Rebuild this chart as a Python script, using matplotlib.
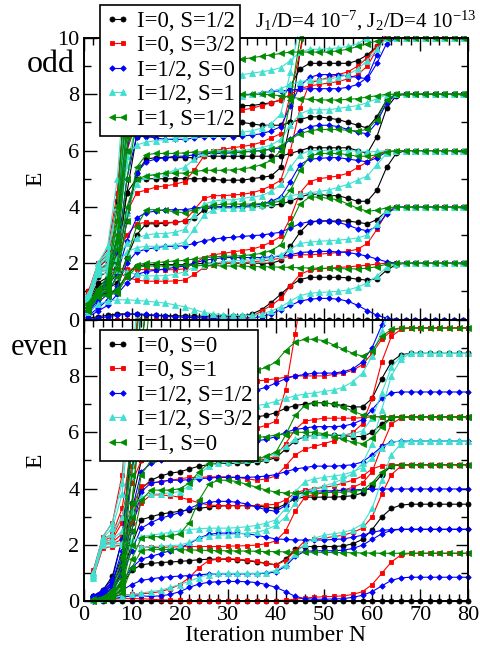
import matplotlib
matplotlib.use("Agg")
import matplotlib.pyplot as plt
from matplotlib.patches import Rectangle
from matplotlib.ticker import MultipleLocator

plt.rcParams['font.family'] = ['Liberation Serif', 'DejaVu Serif']
plt.rcParams['mathtext.fontset'] = 'custom'
plt.rcParams['mathtext.rm'] = 'Liberation Serif'
plt.rcParams['mathtext.it'] = 'Liberation Serif:italic'

# ---------------- data ----------------
N_odd = list(range(1, 80, 2))   # odd iterations
N_even = list(range(2, 81, 2))  # even iterations

labels_odd = ["I=0, S=1/2", "I=0, S=3/2", "I=1/2, S=0", "I=1/2, S=1", "I=1, S=1/2"]
labels_even = ["I=0, S=0", "I=0, S=1", "I=1/2, S=1/2", "I=1/2, S=3/2", "I=1, S=0"]

odd_black = [
 [0,0,0,0,0,0,0,0,0,0, 0,0,0,0,0,0,0,0,0,0, 0,0,0,0,0,0,0,0,0,0, 0,0,0,0,0,0,0,0,0,0],
 [0.05,0.1,0.15,0.2,0.2,0.18,0.15,0.15,0.14,0.13, 0.13,0.12,0.12,0.12,0.12,0.12,0.12,0.2,0.35,0.6,
  0.9,1.2,1.42,1.5,1.5,1.5,1.5,1.48,1.43,1.4, 1.45,1.75,1.95,2.0,2.0,2.0,2.0,2.0,2.0,2.0],
 [0.3,0.85,0.95,1.05,1.6,1.9,1.95,1.95,1.95,1.95, 1.95,1.97,2.0,2.0,2.0,2.0,2.0,2.0,2.0,2.0,
  2.1,2.6,3.1,3.45,3.5,3.5,3.5,3.5,3.45,3.4, 3.55,3.85,4.0,4.0,4.0,4.0,4.0,4.0,4.0,4.0],
 [0.4,1.0,1.1,1.3,2.2,3.0,3.4,3.4,3.42,3.45, 3.5,3.6,3.9,4.0,4.0,4.0,4.0,4.0,4.02,4.05,
  4.1,4.2,4.35,4.45,4.45,4.4,4.4,4.3,4.2,4.2, 4.6,5.4,5.9,6.0,6.0,6.0,6.0,6.0,6.0,6.0],
 [0.5,1.1,1.25,1.6,3.5,5.2,5.7,5.75,5.75,5.75, 5.75,5.75,5.8,5.8,5.8,5.8,5.8,5.8,5.8,5.8,
  5.8,5.9,6.0,6.1,6.1,6.1,6.1,6.1,6.0,5.9, 6.5,7.5,7.95,8.0,8.0,8.0,8.0,8.0,8.0,8.0],
 [0.6,1.2,1.4,2.0,4.5,6.5,6.9,7.0,7.0,7.0, 7.05,7.1,7.1,7.1,7.05,7.0,7.0,6.95,6.9,6.9,
  6.9,7.0,7.1,7.2,7.2,7.15,7.1,7.0,6.9,6.8, 7.2,7.8,8.0,8.0,8.0,8.0,8.0,8.0,8.0,8.0],
 [0.8,1.5,1.7,2.6,6.0,9.0,8.9,8.6,8.4,8.2, 8.0,7.8,7.7,7.65,7.6,7.6,7.6,7.6,7.65,7.7,
  7.8,8.3,8.9,9.1,9.1,9.1,9.1,9.1,9.2,9.4, 9.7,10.0,10.0,10.0,10.0,10.0,10.0,10.0,10.0,10.0],
 [0.7,1.3,1.5,2.3,4.5,5.0,5.0,5.0,5.0,5.0, 5.0,5.0,5.0,4.98,4.95,4.95,4.95,5.0,5.05,5.1,
  5.4,7.0,9.5,11.5],
 [0.9,1.7,2.0,3.5,7.5,11.0],
 [1.0,1.8,2.2,4.2,9.0,13.0],
]

odd_red = [
 [0,0,0,0,0,0,0,0,0,0, 0,0,0,0,0,0,0,0.1,0.3,0.5,
  0.75,1.2,1.6,1.75,1.8,1.82,1.85,1.87,1.9,1.93, 1.97,2.0,2.0,2.0,2.0,2.0,2.0,2.0,2.0,2.0],
 [0.55,1.6,1.65,1.7,1.5,1.4,1.36,1.36,1.36,1.37, 1.4,1.6,1.85,1.95,2.0,2.0,2.02,2.05,2.08,2.12,
  2.18,2.25,2.3,2.3,2.32,2.35,2.38,2.42,2.5,2.7, 3.2,3.8,4.0,4.0,4.0,4.0,4.0,4.0,4.0,4.0],
 [0.6,1.7,1.75,1.8,1.8,1.78,1.77,1.77,1.77,1.77, 1.8,2.0,2.2,2.3,2.35,2.4,2.45,2.5,2.6,2.75,
  2.95,3.6,4.5,4.9,5.0,5.05,5.1,5.2,5.4,5.6, 5.85,6.0,6.0,6.0,6.0,6.0,6.0,6.0,6.0,6.0],
 [0.7,1.8,1.9,2.3,3.0,3.4,3.45,3.45,3.45,3.45, 3.5,3.9,4.3,4.4,4.4,4.42,4.45,4.5,4.6,4.75,
  4.95,6.0,7.5,8.4,8.5,8.6,8.7,8.8,9.0,9.3, 9.7,10.0,10.0,10.0,10.0,10.0,10.0,10.0,10.0,10.0],
 [0.8,1.9,2.1,2.6,3.8,4.5,4.6,4.7,4.75,4.8, 4.9,5.3,5.8,6.0,6.05,6.1,6.15,6.2,6.3,6.45,
  6.6,8.0,9.5,11.0],
 [0.9,2.0,2.3,3.5,6.0,7.0,7.2,7.3,7.3,7.3, 7.3,7.35,7.4,7.4,7.4,7.42,7.45,7.5,7.6,7.7,
  7.8,8.0,8.2,8.3,8.35,8.4,8.45,8.55,8.7,9.0, 9.6,10.2,11.0],
 [1.0,2.0,2.5,4.5,8.5,12.0],
]

odd_blue = [
 [0.0,0.05,0.1,0.15,0.2,0.2,0.18,0.15,0.12,0.1, 0.08,0.07,0.06,0.05,0.05,0.05,0.05,0.06,0.1,0.2,
  0.35,0.5,0.65,0.72,0.75,0.75,0.72,0.65,0.5,0.32, 0.15,0.05,0.0,0.0,0.0,0.0,0.0,0.0,0.0,0.0],
 [0.1,0.3,0.5,0.9,1.3,1.6,1.7,1.75,1.8,1.85, 1.9,2.0,2.1,2.15,2.2,2.2,2.2,2.2,2.2,2.22,
  2.25,2.3,2.38,2.4,2.42,2.42,2.4,2.38,2.32,2.25, 2.15,2.05,2.0,2.0,2.0,2.0,2.0,2.0,2.0,2.0],
 [0.15,0.4,0.7,1.2,2.0,2.4,2.5,2.55,2.6,2.6, 2.62,2.7,2.8,2.85,2.9,2.92,2.95,2.98,3.0,3.05,
  3.1,3.25,3.4,3.48,3.5,3.5,3.45,3.35,3.22,3.15, 3.3,3.75,3.98,4.0,4.0,4.0,4.0,4.0,4.0,4.0],
 [0.2,0.6,0.9,1.6,2.8,3.6,3.8,3.85,3.9,3.9, 3.9,3.95,4.0,4.0,4.0,4.0,4.02,4.05,4.1,4.2,
  4.35,4.9,5.5,5.7,5.72,5.75,5.75,5.7,5.65,5.6, 5.75,5.95,6.0,6.0,6.0,6.0,6.0,6.0,6.0,6.0],
 [0.25,0.7,1.1,2.0,3.8,5.2,5.6,5.7,5.75,5.8, 5.8,5.85,5.9,5.9,5.9,5.92,5.95,5.98,6.0,6.05,
  6.1,6.4,6.7,6.85,6.9,6.9,6.85,6.75,6.65,6.6, 7.0,7.7,7.98,8.0,8.0,8.0,8.0,8.0,8.0,8.0],
 [0.3,0.8,1.3,2.4,5.0,6.5,6.5,6.45,6.4,6.4, 6.4,6.45,6.5,6.5,6.5,6.5,6.52,6.55,6.6,6.7,
  6.85,7.6,8.3,8.6,8.7,8.7,8.7,8.65,8.6,8.55, 9.1,9.8,10.0,10.0,10.0,10.0,10.0,10.0,10.0,10.0],
 [0.3,0.85,1.4,2.8,6.0,7.5,7.6,7.65,7.7,7.75, 7.8,7.85,7.9,7.9,7.9,7.92,7.95,8.0,8.05,8.1,
  8.12,8.15,8.18,8.2,8.2,8.2,8.2,8.25,8.35,8.6, 9.4,10.5,12.0],
 [0.35,0.9,1.5,3.0,7.0,11.0],
]

odd_cyan = [
 [0.25,0.55,0.65,0.7,0.7,0.68,0.65,0.62,0.58,0.52, 0.45,0.35,0.25,0.2,0.17,0.15,0.15,0.15,0.2,0.3,
  0.45,0.65,0.85,0.93,0.96,0.98,1.0,1.05,1.15,1.3, 1.55,1.85,1.98,2.0,2.0,2.0,2.0,2.0,2.0,2.0],
 [0.55,1.6,1.65,1.75,1.7,1.6,1.55,1.55,1.56,1.6, 1.7,1.85,1.95,2.0,2.05,2.08,2.1,2.12,2.15,2.2,
  2.3,2.5,2.7,2.75,2.78,2.8,2.82,2.85,2.9,3.0, 3.4,3.9,4.0,4.0,4.0,4.0,4.0,4.0,4.0,4.0],
 [0.6,1.65,1.8,2.0,2.4,2.55,2.6,2.6,2.62,2.65, 2.75,3.2,3.7,3.9,3.95,3.95,3.97,4.0,4.05,4.15,
  4.3,4.4,4.45,4.5,4.55,4.6,4.7,4.8,4.95,5.1, 5.5,5.9,6.0,6.0,6.0,6.0,6.0,6.0,6.0,6.0],
 [0.65,1.7,1.85,2.2,2.7,2.9,3.0,3.05,3.05,3.1, 3.2,3.7,4.1,4.2,4.25,4.25,4.3,4.35,4.4,4.55,
  4.8,5.4,5.85,6.0,6.0,6.0,6.0,6.0,5.98,5.95, 5.97,6.0,6.0,6.0,6.0,6.0,6.0,6.0,6.0,6.0],
 [0.7,1.75,1.9,2.6,3.8,4.8,5.1,5.15,5.2,5.3, 5.4,5.7,5.9,6.0,6.0,6.0,6.0,6.05,6.1,6.2,
  6.4,6.9,7.3,7.45,7.45,7.45,7.5,7.55,7.6,7.7, 7.85,7.98,8.0,8.0,8.0,8.0,8.0,8.0,8.0,8.0],
 [0.75,1.8,2.0,3.0,5.5,7.0,7.3,7.4,7.5,7.6, 7.7,7.8,7.85,7.9,7.9,7.9,7.95,8.0,8.05,8.1,
  8.2,8.35,8.45,8.5,8.5,8.55,8.6,8.7,8.9,9.2, 9.6,10.0,10.0,10.0,10.0,10.0,10.0,10.0,10.0,10.0],
 [0.85,1.9,2.2,3.3,5.8,6.2,6.3,6.35,6.4,6.45, 6.5,6.55,6.6,6.6,6.6,6.62,6.65,6.7,6.8,6.95,
  7.3,8.8,10.5,12.0],
 [0.9,2.0,2.4,4.0,7.0,8.2,8.4,8.5,8.55,8.6, 8.6,8.6,8.6,8.62,8.65,8.68,8.7,8.75,8.8,8.85,
  8.95,9.2,9.5,9.6,9.6,9.62,9.65,9.7,9.8,10.0, 10.5,11.5],
 [0.8,1.9,2.3,4.0,8.0,12.0],
 [0.9,2.0,2.6,5.0,9.5,13.0],
]

odd_green = [
 [0.3,0.8,0.85,0.95,1.5,1.85,1.9,1.9,1.9,1.92, 1.93,1.93,1.92,1.92,1.9,1.9,1.9,1.88,1.88,1.87,
  1.86,1.85,1.84,1.83,1.82,1.82,1.81,1.8,1.8,1.82, 1.88,1.96,2.0,2.0,2.0,2.0,2.0,2.0,2.0,2.0],
 [0.35,0.85,0.9,1.1,2.2,3.3,3.9,3.9,3.88,3.82, 3.8,3.9,4.0,4.05,4.1,4.1,4.1,4.1,4.12,4.15,
  4.2,4.6,5.3,5.8,5.9,5.9,5.9,5.85,5.8,5.8, 5.85,5.95,6.0,6.0,6.0,6.0,6.0,6.0,6.0,6.0],
 [0.32,0.82,0.88,1.0,1.6,1.95,2.0,2.02,2.05,2.08, 2.1,2.15,2.2,2.22,2.25,2.25,2.27,2.3,2.35,2.45,
  2.65,3.4,4.1,4.35,4.35,4.3,4.25,4.1,3.95,3.85, 3.88,3.97,4.0,4.0,4.0,4.0,4.0,4.0,4.0,4.0],
 [0.4,0.9,1.0,1.5,3.5,5.4,5.85,5.9,5.9,5.9, 5.92,5.95,5.95,5.95,5.95,5.95,5.95,5.97,6.0,6.05,
  6.15,6.4,6.6,6.7,6.75,6.75,6.75,6.72,6.7,6.75, 7.1,7.8,8.0,8.0,8.0,8.0,8.0,8.0,8.0,8.0],
 [0.45,0.95,1.1,2.0,5.0,7.0,7.6,7.7,7.75,7.8, 7.85,7.9,7.95,8.0,8.0,8.0,8.0,8.0,8.0,7.98,
  7.95,7.9,7.85,7.82,7.8,7.8,7.8,7.82,7.85,7.9, 7.95,8.0,8.0,8.0,8.0,8.0,8.0,8.0,8.0,8.0],
 [0.5,1.0,1.2,2.5,6.0,8.5,8.9,9.0,9.0,9.05, 9.1,9.15,9.2,9.2,9.2,9.2,9.25,9.3,9.35,9.4,
  9.45,9.5,9.5,9.5,9.5,9.5,9.55,9.6,9.7,9.8, 9.9,10.0,10.0,10.0,10.0,10.0,10.0,10.0,10.0,10.0],
 [0.45,0.9,1.05,1.8,4.0,5.0,5.1,5.15,5.2,5.2, 5.2,5.25,5.3,5.3,5.3,5.32,5.35,5.4,5.5,5.65,
  6.0,7.8,10.0,12.0],
 [0.5,1.0,1.3,3.0,7.0,11.5],
 [0.55,1.05,1.4,3.5,8.0,12.0],
 [0.6,1.1,1.5,4.0,9.0,13.0],
 [0.4,0.95,1.2,2.8,6.5,10.5],
]

even_black = [
 [0,0,0,0,0,0,0,0,0,0, 0,0,0,0,0,0,0,0,0,0, 0,0,0,0,0,0,0,0,0,0, 0,0,0,0,0,0,0,0,0,0],
 [0.05,0.15,0.3,0.6,1.1,1.3,1.35,1.38,1.4,1.42, 1.45,1.48,1.5,1.5,1.5,1.48,1.45,1.4,1.35,1.3,
  1.5,1.85,1.95,1.95,1.95,1.95,1.97,2.05,2.2,2.55, 3.0,3.3,3.42,3.45,3.45,3.45,3.45,3.45,3.45,3.45],
 [0.1,0.25,0.5,1.0,2.0,2.9,3.0,3.1,3.15,3.2, 3.25,3.3,3.35,3.38,3.4,3.4,3.4,3.38,3.35,3.3,
  3.45,3.65,3.7,3.7,3.7,3.7,3.72,3.75,3.85,4.1, 4.5,4.8,4.85,4.85,4.85,4.85,4.85,4.85,4.85,4.85],
 [0.15,0.3,0.6,1.3,2.8,4.0,4.3,4.45,4.55,4.6, 4.7,4.8,4.85,4.9,4.9,4.9,4.92,4.95,5.0,5.1,
  5.4,5.7,5.85,5.9,5.9,5.9,5.88,5.85,5.85,6.0, 6.3,6.5,6.55,6.55,6.55,6.55,6.55,6.55,6.55,6.55],
 [0.2,0.35,0.7,1.6,3.5,5.0,5.5,5.7,5.85,5.95, 6.1,6.3,6.4,6.45,6.45,6.45,6.5,6.55,6.6,6.7,
  6.85,6.95,7.0,7.05,7.05,7.0,6.95,6.9,6.9,7.2, 7.9,8.5,8.75,8.8,8.8,8.8,8.8,8.8,8.8,8.8],
 [0.2,0.4,0.9,2.2,5.5,9.0,12.0],
]

even_red = [
 [0.0,0.05,0.08,0.1,0.1,0.1,0.08,0.06,0.05,0.04, 0.03,0.03,0.03,0.03,0.03,0.03,0.03,0.03,0.03,0.03,
  0.05,0.08,0.12,0.15,0.17,0.18,0.2,0.25,0.35,0.6, 1.0,1.4,1.65,1.71,1.71,1.71,1.71,1.71,1.71,1.71],
 [0.1,0.15,0.2,0.22,0.25,0.27,0.3,0.35,0.45,0.6, 0.85,1.2,1.45,1.5,1.52,1.5,1.47,1.42,1.35,1.3,
  1.45,1.8,2.15,2.2,2.25,2.3,2.35,2.45,2.6,3.0, 3.8,4.5,4.8,4.85,4.85,4.85,4.85,4.85,4.85,4.85],
 [0.85,1.9,1.95,2.0,2.0,1.95,1.92,1.92,1.93,1.94, 1.95,1.95,1.95,1.95,1.96,1.97,1.98,2.0,2.05,2.15,
  2.5,3.2,3.7,3.8,3.85,3.9,3.95,4.05,4.2,4.6, 5.5,6.3,6.5,6.55,6.55,6.55,6.55,6.55,6.55,6.55],
 [0.9,2.0,2.05,2.2,2.8,3.5,3.78,3.78,3.75,3.7, 3.6,3.5,3.42,3.4,3.4,3.4,3.4,3.4,3.42,3.45,
  3.6,3.85,3.95,4.0,4.05,4.1,4.2,4.3,4.45,4.7, 4.82,4.85,4.85,4.85,4.85,4.85,4.85,4.85,4.85,4.85],
 [0.95,2.05,2.1,2.4,3.3,4.1,4.2,4.25,4.3,4.35, 4.4,4.4,4.42,4.42,4.42,4.4,4.35,4.3,4.35,4.45,
  4.8,5.2,5.4,5.5,5.6,5.7,5.85,6.0,6.3,7.2, 8.5,9.4,9.65,9.7,9.7,9.7,9.7,9.7,9.7,9.7],
 [1.0,2.1,2.2,2.8,4.2,5.0,5.1,5.15,5.2,5.25, 5.3,5.2,5.1,5.0,5.0,5.0,5.0,5.0,5.05,5.15,
  5.6,6.1,6.4,6.45,6.5,6.5,6.5,6.5,6.52,6.55, 6.55,6.55,6.55,6.55,6.55,6.55,6.55,6.55,6.55,6.55],
 [1.05,2.2,2.4,3.3,5.5,7.0,7.2,7.3,7.4,7.5, 7.6,7.7,7.75,7.8,7.8,7.8,7.8,7.82,7.85,7.9,
  7.95,8.0,8.0,8.0,8.0,8.05,8.1,8.2,8.4,8.8, 9.3,9.6,9.7,9.7,9.7,9.7,9.7,9.7,9.7,9.7],
 [1.0,2.15,2.3,3.0,4.8,5.6,5.8,5.9,6.0,6.0, 6.0,6.0,6.0,6.0,6.02,6.05,6.1,6.15,6.25,6.4,
  7.5,9.5,11.5],
 [1.1,2.3,2.8,4.5,8.0,11.5],
]

even_blue = [
 [0.02,0.05,0.1,0.15,0.2,0.2,0.18,0.2,0.25,0.35, 0.5,0.62,0.68,0.7,0.71,0.71,0.7,0.67,0.6,0.5,
  0.35,0.18,0.1,0.08,0.08,0.09,0.1,0.15,0.22,0.35, 0.55,0.75,0.84,0.86,0.86,0.86,0.86,0.86,0.86,0.86],
 [0.05,0.15,0.35,0.7,1.2,1.5,1.6,1.7,1.8,1.9, 2.05,2.25,2.38,2.42,2.43,2.42,2.4,2.35,2.28,2.22,
  2.2,2.18,2.18,2.18,2.18,2.2,2.22,2.28,2.35,2.45, 2.52,2.55,2.56,2.56,2.56,2.56,2.56,2.56,2.56,2.56],
 [0.04,0.1,0.2,0.4,0.6,0.75,0.8,0.85,0.88,0.9, 0.92,0.95,0.97,0.98,0.98,0.98,0.98,0.99,1.0,1.05,
  1.25,1.6,1.78,1.8,1.8,1.8,1.82,1.88,2.0,2.2, 2.4,2.52,2.56,2.56,2.56,2.56,2.56,2.56,2.56,2.56],
 [0.1,0.2,0.45,0.9,1.8,2.6,2.8,2.95,3.05,3.15, 3.3,3.45,3.52,3.55,3.55,3.52,3.45,3.35,3.25,3.2,
  3.4,3.75,3.9,3.92,3.92,3.93,3.95,3.96,3.97,3.98, 3.99,3.99,3.99,3.99,3.99,3.99,3.99,3.99,3.99,3.99],
 [0.12,0.25,0.5,1.1,2.5,3.9,4.2,4.25,4.3,4.3, 4.32,4.35,4.38,4.4,4.4,4.4,4.4,4.42,4.45,4.5,
  4.6,4.7,4.75,4.8,4.8,4.8,4.82,4.85,4.95,5.2, 5.5,5.65,5.69,5.69,5.69,5.69,5.69,5.69,5.69,5.69],
 [0.15,0.3,0.6,1.4,3.2,4.6,4.9,5.0,5.1,5.2, 5.3,5.45,5.55,5.6,5.6,5.62,5.65,5.7,5.75,5.85,
  6.0,6.1,6.15,6.2,6.2,6.2,6.22,6.3,6.45,6.8, 7.2,7.4,7.43,7.43,7.43,7.43,7.43,7.43,7.43,7.43],
 [0.18,0.35,0.7,1.8,4.5,6.6,7.0,7.1,7.2,7.3, 7.35,7.4,7.4,7.4,7.4,7.42,7.45,7.5,7.6,7.75,
  7.9,8.0,8.05,8.1,8.1,8.1,8.15,8.25,8.5,9.0, 9.8,10.6],
 [0.2,0.4,0.8,2.2,6.0,10.5],
]

even_cyan = [
 [0.85,2.0,2.03,2.05,2.15,2.3,2.35,2.4,2.45,2.5, 2.55,2.58,2.6,2.6,2.6,2.62,2.65,2.7,2.78,2.9,
  3.3,3.9,4.25,4.35,4.4,4.45,4.5,4.6,4.75,5.1, 5.45,5.65,5.69,5.69,5.69,5.69,5.69,5.69,5.69,5.69],
 [0.05,0.1,0.15,0.2,0.25,0.3,0.35,0.4,0.5,0.6, 0.72,0.85,0.95,1.0,1.0,1.0,1.0,1.0,1.02,1.1,
  1.3,1.7,2.05,2.25,2.35,2.4,2.45,2.55,2.75,3.3, 4.3,5.2,5.6,5.69,5.69,5.69,5.69,5.69,5.69,5.69],
 [0.9,2.02,2.05,2.07,2.0,1.95,1.95,1.96,1.98,2.0, 2.1,2.25,2.33,2.35,2.37,2.4,2.42,2.45,2.55,2.7,
  3.0,3.5,3.9,4.0,4.1,4.2,4.35,4.55,4.9,5.6, 6.8,8.0,8.6,8.8,8.8,8.8,8.8,8.8,8.8,8.8],
 [0.95,2.1,2.2,2.5,3.2,3.7,3.8,3.82,3.85,3.9, 4.1,4.5,4.8,4.9,4.95,5.0,5.0,5.05,5.1,5.25,
  5.5,5.75,5.85,5.9,5.9,5.9,5.92,5.95,6.05,6.5, 7.4,8.3,8.7,8.8,8.8,8.8,8.8,8.8,8.8,8.8],
 [1.0,2.2,2.4,3.0,4.5,6.0,6.3,6.4,6.5,6.6, 6.7,6.8,6.85,6.9,6.9,6.9,6.92,6.95,7.0,7.1,
  7.2,7.3,7.35,7.4,7.45,7.5,7.6,7.8,8.1,8.7, 9.6,10.5],
 [1.0,2.25,2.6,3.8,7.5,11.0],
 [1.05,2.3,2.8,4.2,8.5,12.0],
]

even_green = [
 [0.02,0.05,0.1,0.3,1.2,1.8,1.85,1.85,1.84,1.84, 1.83,1.82,1.81,1.8,1.8,1.79,1.79,1.78,1.77,1.77,
  1.76,1.76,1.75,1.75,1.74,1.74,1.73,1.73,1.72,1.72, 1.71,1.71,1.71,1.71,1.71,1.71,1.71,1.71,1.71,1.71],
 [0.03,0.06,0.12,0.4,1.5,2.25,2.3,2.3,2.32,2.4, 2.8,3.6,4.15,4.3,4.3,4.25,4.15,4.05,3.95,3.88,
  3.85,3.85,3.85,3.85,3.86,3.87,3.88,3.9,3.95,4.2, 4.6,4.8,4.85,4.85,4.85,4.85,4.85,4.85,4.85,4.85],
 [0.04,0.08,0.15,0.5,2.0,3.6,3.95,3.95,3.95,4.0, 4.2,4.6,4.9,5.0,5.0,5.0,5.02,5.05,5.15,5.3,
  5.9,6.6,6.95,7.05,7.05,7.0,6.9,6.75,6.62,6.56, 6.55,6.55,6.55,6.55,6.55,6.55,6.55,6.55,6.55,6.55],
 [0.05,0.1,0.2,0.6,2.5,4.5,5.0,5.2,5.3,5.4, 5.5,5.6,5.7,5.75,5.8,5.8,5.8,5.82,5.85,5.9,
  5.95,6.0,6.0,6.0,5.95,5.85,5.75,5.65,5.6,5.8, 6.2,6.5,6.55,6.55,6.55,6.55,6.55,6.55,6.55,6.55],
 [0.06,0.12,0.25,0.8,3.5,6.5,7.3,7.5,7.6,7.7, 7.8,7.9,8.0,8.0,8.05,8.1,8.15,8.2,8.3,8.5,
  8.9,9.2,9.3,9.3,9.25,9.1,8.95,8.8,8.7,8.9, 9.4,9.65,9.7,9.7,9.7,9.7,9.7,9.7,9.7,9.7],
 [0.06,0.12,0.3,1.0,4.5,9.0,12.0],
 [0.07,0.14,0.35,1.3,5.5,10.5],
 [0.08,0.16,0.4,1.6,6.5,12.0],
 [0.05,0.1,0.22,0.7,3.0,7.5,11.0],
]

# ---------------- styles ----------------
styles = [
    dict(color='black', marker='o', ms=3.6),
    dict(color='#ff0000', marker='s', ms=3.4),
    dict(color='#0000ff', marker='D', ms=2.8),
    dict(color='#40e0d0', marker='^', ms=4.0),
    dict(color='#008b00', marker='<', ms=4.0),
]

fig = plt.figure(figsize=(4.8, 6.55), dpi=100)
L, W = 0.1742, 0.8014
ax_top = fig.add_axes([L, 0.5122, W, 0.4298])
ax_bot = fig.add_axes([L, 0.0817, W, 0.4305])


def draw(ax, N, groups, labels):
    clip = Rectangle((-0.02, -0.03), 1.04, 1.038, transform=ax.transAxes)
    handles = []
    for grp, st, lab in zip(groups, styles, labels):
        first = None
        for lvl in grp:
            ln, = ax.plot(N[:len(lvl)], lvl, color=st['color'], marker=st['marker'],
                          ms=st['ms'], lw=0.8, mew=0.6, mec=st['color'])
            ln.set_clip_path(clip)
            if first is None:
                first = ln
        handles.append(first)
    ax.set_xlim(0, 80)
    ax.set_ylim(0, 10)
    ax.xaxis.set_major_locator(MultipleLocator(10))
    ax.xaxis.set_minor_locator(MultipleLocator(2))
    ax.yaxis.set_major_locator(MultipleLocator(2))
    ax.yaxis.set_minor_locator(MultipleLocator(1))
    ax.tick_params(which='both', direction='in', top=True, right=True, width=1.0)
    ax.tick_params(which='major', length=9, labelsize=16, pad=3)
    ax.tick_params(which='minor', length=5)
    for s in ax.spines.values():
        s.set_linewidth(1.4)
    ax.set_ylabel('E', fontsize=17)
    ax.yaxis.set_label_coords(-0.098, 0.5)
    return handles


h_top = draw(ax_top, N_odd, [odd_black, odd_red, odd_blue, odd_cyan, odd_green], labels_odd)
h_bot = draw(ax_bot, N_even, [even_black, even_red, even_blue, even_cyan, even_green], labels_even)

ax_top.tick_params(labelbottom=False)
ax_bot.set_yticks([0, 2, 4, 6, 8, 10])
ax_bot.set_yticklabels(['0', '2', '4', '6', '8', ''])
ax_bot.set_xlabel('Iteration number N', fontsize=17, labelpad=0)

leg_kw = dict(loc='upper left', bbox_transform=fig.transFigure, fontsize=16.5,
              numpoints=2, handlelength=1.05, handletextpad=0.3, borderpad=0.25,
              labelspacing=0.15, borderaxespad=0, fancybox=False, framealpha=1,
              edgecolor='black', borderaxespad_=None) if False else dict(
              loc='upper left', bbox_transform=fig.transFigure, fontsize=16.5,
              numpoints=2, handlelength=1.05, handletextpad=0.3, borderpad=0.25,
              labelspacing=0.15, borderaxespad=0, fancybox=False, framealpha=1,
              edgecolor='black')
lg1 = ax_top.legend(h_top, labels_odd, bbox_to_anchor=(0.208, 0.992), **leg_kw)
lg1.get_frame().set_linewidth(1.2)
lg1.set_zorder(10)
lg2 = ax_bot.legend(h_bot, labels_even, bbox_to_anchor=(0.208, 0.496), **leg_kw)
lg2.get_frame().set_linewidth(1.2)
lg2.set_zorder(10)

fig.text(0.762, 0.968, r'J$_1$/D=4 10$^{-7}$, J$_2$/D=4 10$^{-13}$', ha='center', va='center', fontsize=15)
fig.text(0.105, 0.902, 'odd', ha='center', va='center', fontsize=23)
fig.text(0.083, 0.470, 'even', ha='center', va='center', fontsize=22)

fig.savefig('out.png', dpi=100)
